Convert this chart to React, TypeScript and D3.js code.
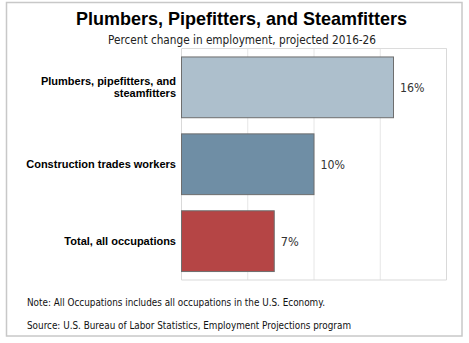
import React from "react";
import * as d3 from "d3";

const categories = [
  ["Plumbers, pipefitters, and", "steamfitters"],
  ["Construction trades workers"],
  ["Total, all occupations"],
];
const values = [16, 10, 7];
const valueLabels = ["16%", "10%", "7%"];
const colors = ["#adbfcc", "#6f8ea5", "#b54545"];
const gridTicks = [0, 5, 10, 15, 20];
const title = "Plumbers, Pipefitters, and Steamfitters";
const subtitle = "Percent change in employment, projected 2016-26";
const notes = [
  "Note: All Occupations includes all occupations in the U.S. Economy.",
  "Source: U.S. Bureau of Labor Statistics, Employment Projections program",
];

const W = 469;
const H = 343;
const plot = { left: 181.5, right: 446.5, top: 48.5, bottom: 280 };

export default function App() {
  const x = d3.scaleLinear().domain([0, 20]).range([plot.left, plot.right]);
  const y = d3
    .scaleBand<number>()
    .domain(d3.range(categories.length))
    .range([plot.top, plot.bottom])
    .paddingInner(0.21)
    .paddingOuter(0.11);
  const small = "Tahoma, 'DejaVu Sans', Verdana, sans-serif";
  return (
    <svg
      width={W}
      height={H}
      style={{ position: "absolute", left: 0, top: 0, background: "#fff" }}
    >
      <rect x={6.5} y={2.5} width={455.5} height={333.5} fill="#fff" stroke="#c8c8c8" strokeWidth={1.5} />
      <text x={241.5} y={25} textAnchor="middle" fontFamily="'Liberation Sans', Arial, sans-serif" fontWeight="bold" fontSize={18.5} fill="#000" textLength={331} lengthAdjust="spacingAndGlyphs">
        {title}
      </text>
      <text x={242} y={44} textAnchor="middle" fontFamily={small} fontSize={12} fill="#222" textLength={268} lengthAdjust="spacingAndGlyphs">
        {subtitle}
      </text>
      {gridTicks.map((t) => (
        <line key={t} x1={x(t)} x2={x(t)} y1={plot.top} y2={plot.bottom} stroke={t === 0 ? "#d9d9d9" : "#e6e6e6"} strokeWidth={1} />
      ))}
      <line x1={plot.left} x2={plot.right} y1={plot.top} y2={plot.top} stroke="#dcdcdc" />
      <line x1={plot.left} x2={plot.right} y1={plot.bottom} y2={plot.bottom} stroke="#d9d9d9" />
      <line x1={plot.right} x2={plot.right} y1={plot.top} y2={plot.bottom} stroke="#d9d9d9" />
      {values.map((v, i) => {
        const y0 = y(i)!;
        const bw = y.bandwidth();
        const cy = y0 + bw / 2;
        const lines = categories[i];
        const lw = valueLabels[i].length === 3 ? 24.5 : 18;
        return (
          <g key={i}>
            <rect x={x(0)} y={y0} width={x(v) - x(0)} height={bw} fill={colors[i]} stroke="#6e6e6e" strokeWidth={1} />
            <text x={x(v) + 6.5} y={cy + 4.5} fontFamily={small} fontSize={12.5} fill="#333" textLength={lw} lengthAdjust="spacingAndGlyphs">
              {valueLabels[i]}
            </text>
            {lines.map((l, j) => (
              <text
                key={j}
                x={176}
                y={cy + 4 + (j - (lines.length - 1) / 2) * 12}
                textAnchor="end"
                fontFamily="'Liberation Sans', Arial, sans-serif"
                fontWeight="bold"
                fontSize={11}
                fill="#000"
              >
                {l}
              </text>
            ))}
          </g>
        );
      })}
      {notes.map((n, i) => (
        <text key={i} x={27} y={306 + i * 22.5} fontFamily={small} fontSize={10} fill="#111" textLength={i === 0 ? 298 : 324} lengthAdjust="spacingAndGlyphs">
          {n}
        </text>
      ))}
    </svg>
  );
}
